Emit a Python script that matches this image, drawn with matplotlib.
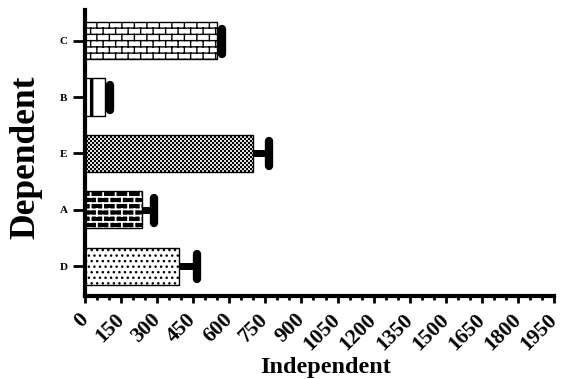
import warnings
import numpy as np
import matplotlib
matplotlib.use('Agg')
import matplotlib.pyplot as plt
import matplotlib.hatch as mhatch
from matplotlib.markers import MarkerStyle
from matplotlib.path import Path
from matplotlib.ticker import MultipleLocator

warnings.filterwarnings('ignore')

groups = ['D', 'A', 'E', 'B', 'C']
means = [390, 235, 700, 85, 550]
errors = [75, 52, 65, 20, 20]
xticks = np.arange(0, 2000, 150)


# extra fill patterns: 'b' = brick wall, 'c' = fine checkerboard
class BrickHatch(mhatch.HatchPatternBase):
    def __init__(self, hatch, density):
        rows, cols = 16, 8
        segs = []
        if 'b' in hatch:
            for i in range(rows):
                y = (i + 0.5) / rows
                segs.append(((0.0, y), (1.0, y)))
                y1 = y + 1.0 / rows
                for j in range(cols):
                    x = (j + 0.25 + 0.5 * (i % 2)) / cols
                    if y1 > 1.0:
                        segs.append(((x, y), (x, 1.0)))
                        segs.append(((x, 0.0), (x, y1 - 1.0)))
                    else:
                        segs.append(((x, y), (x, y1)))
        self.segs = segs
        self.num_vertices = 2 * len(segs)

    def set_vertices_and_codes(self, vertices, codes):
        for k, (p0, p1) in enumerate(self.segs):
            vertices[2 * k] = p0
            vertices[2 * k + 1] = p1
            codes[2 * k] = Path.MOVETO
            codes[2 * k + 1] = Path.LINETO


class CheckerHatch(mhatch.HatchPatternBase):
    def __init__(self, hatch, density):
        n = 50
        self.cells = []
        if 'c' in hatch:
            self.cells = [(i / n, j / n, 1.0 / n)
                          for i in range(n) for j in range(n) if (i + j) % 2 == 0]
        self.num_vertices = 5 * len(self.cells)

    def set_vertices_and_codes(self, vertices, codes):
        for k, (x, y, s) in enumerate(self.cells):
            vertices[5 * k:5 * k + 5] = [(x, y), (x + s, y), (x + s, y + s),
                                         (x, y + s), (x, y)]
            codes[5 * k:5 * k + 5] = [Path.MOVETO, Path.LINETO, Path.LINETO,
                                      Path.LINETO, Path.CLOSEPOLY]


mhatch._hatch_types.extend([BrickHatch, CheckerHatch])
_validate = mhatch._validate_hatch_pattern
mhatch._validate_hatch_pattern = lambda h: _validate(
    h.replace('b', '').replace('c', '') if isinstance(h, str) else h)

plt.rcParams['font.family'] = 'Liberation Serif'
plt.rcParams['font.weight'] = 'bold'
plt.rcParams['axes.labelweight'] = 'bold'

# face colour, hatch colour, pattern, hatch linewidth
styles = {
    'D': ('white', 'black', '...', 1.0),
    'A': ('black', 'white', 'b', 1.3),
    'E': ('white', 'black', 'c', 0.1),
    'B': ('white', 'black', '|', 2.5),
    'C': ('white', 'black', 'b', 1.0),
}

fig = plt.figure(figsize=(5.64, 3.79), dpi=100)
ax = fig.add_axes([85/564, 83/379, 469/564, 286/379])

pos = np.arange(len(groups))
for p, g, m in zip(pos, groups, means):
    face, hcol, hatch, hlw = styles[g]
    with plt.rc_context({'hatch.linewidth': hlw}):
        bar = ax.barh(p, m, height=0.66, color=face, edgecolor=hcol,
                      hatch=hatch, linewidth=0, zorder=2)
    for patch in bar:
        if hasattr(patch, 'set_hatch_linewidth'):
            patch.set_hatch_linewidth(hlw)
ax.barh(pos, means, height=0.66, fill=False, edgecolor='black',
        linewidth=1.0, zorder=3)

# one-sided error bars with rounded caps
ends = np.array(means) + np.array(errors)
ax.hlines(pos, means, ends, color='black', linewidth=5, zorder=4)
ax.plot(ends, pos, ls='none', color='black', zorder=5,
        marker=MarkerStyle('|', capstyle='round'),
        markersize=18, markeredgewidth=6)

ax.set_xlim(0, 1950)
ax.set_ylim(-0.53, 4.545)
ax.set_xticks(xticks)
ax.set_xticklabels([str(t) for t in xticks], rotation=45, ha='right',
                   va='center', rotation_mode='anchor', fontsize=15.5)
ax.xaxis.set_minor_locator(MultipleLocator(50))
ax.set_yticks(pos)
ax.set_yticklabels(groups, fontsize=8)

for side in ['top', 'right']:
    ax.spines[side].set_visible(False)
for side in ['left', 'bottom']:
    ax.spines[side].set_linewidth(3)

ax.tick_params(axis='y', length=8.5, width=2, pad=4)
ax.tick_params(axis='x', which='major', length=5, width=2, pad=10)
ax.tick_params(axis='x', which='minor', length=3, width=2)

ax.set_xlabel('Independent', fontsize=17.5)
ax.xaxis.set_label_coords(0.512, -0.215)
ax.set_ylabel('Dependent', fontsize=25.5)
ax.yaxis.set_label_coords(-0.09, 0.485)

fig.savefig('out.png', dpi=100)
